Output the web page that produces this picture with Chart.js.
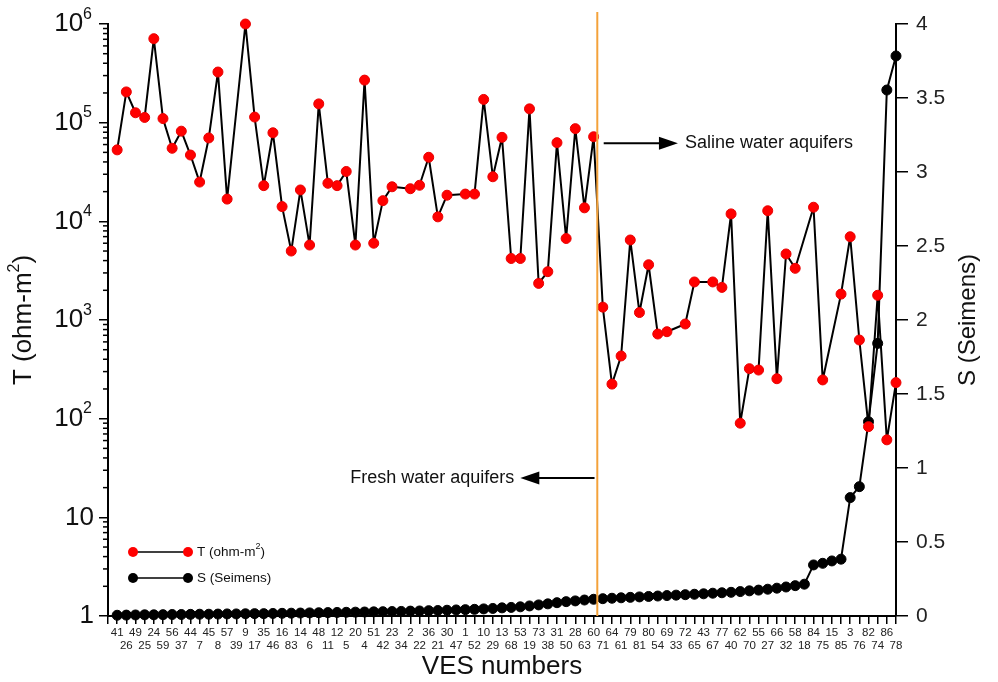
<!DOCTYPE html>
<html>
<head>
<meta charset="utf-8">
<script src="https://cdn.jsdelivr.net/npm/chart.js@4.4.1/dist/chart.umd.min.js"></script>
<style>
  html, body { margin: 0; padding: 0; background: #fff; }
</style>
</head>
<body>
<canvas id="chart" width="998" height="682"></canvas>
<script>
// VES numbers along the x axis, in plotted order
const vesNumbers = [41, 26, 49, 25, 24, 59, 56, 37, 44, 7, 45, 8, 57, 39, 9, 17, 35, 46, 16, 83,
  14, 6, 48, 11, 12, 5, 20, 4, 51, 42, 23, 34, 2, 22, 36, 21, 30, 47, 1, 52,
  10, 29, 13, 68, 53, 19, 73, 38, 31, 50, 28, 63, 60, 71, 64, 61, 79, 81, 80, 54,
  69, 33, 72, 65, 43, 67, 77, 40, 62, 70, 55, 27, 66, 32, 58, 18, 84, 75, 15, 85,
  3, 76, 82, 74, 86, 78];

// transverse resistance T (ohm-m2); null where no T marker is drawn
const tValues = [53000, 205000, 126000, 113000, 710000, 110000, 55000, 82000, 47000, 25000,
  70000, 326000, 16800, null, 1000000, 114000, 23000, 79000, 14100, 5000,
  20800, 5750, 155000, 24300, 23000, 32000, 5750, 270000, 6000, 16200,
  22400, null, 21400, 23200, 44600, 11100, 18400, null, 18900, 18900,
  172000, 28300, 71000, 4200, 4200, 138000, 2350, 3090, 62700, 6700,
  87000, 13700, 72000, 1350, 224, 432, 6470, 1190, 3630, 721,
  761, null, 911, 2430, null, 2430, 2140, 11900, 90, 321,
  311, 12800, 254, 4670, 3340, null, 13900, 247, null, 1830,
  6980, 627, 83, 1780, 61, 232];

// longitudinal conductance S (Seimens)
const sValues = [0.005, 0.006, 0.007, 0.008, 0.008, 0.009, 0.010, 0.010, 0.011, 0.012,
  0.012, 0.013, 0.014, 0.014, 0.015, 0.016, 0.016, 0.017, 0.018, 0.019,
  0.020, 0.021, 0.022, 0.023, 0.024, 0.025, 0.026, 0.027, 0.028, 0.029,
  0.030, 0.031, 0.033, 0.034, 0.036, 0.037, 0.039, 0.041, 0.043, 0.045,
  0.048, 0.051, 0.055, 0.058, 0.062, 0.068, 0.075, 0.082, 0.090, 0.097,
  0.102, 0.108, 0.113, 0.117, 0.120, 0.123, 0.126, 0.129, 0.132, 0.135,
  0.138, 0.141, 0.144, 0.147, 0.150, 0.154, 0.157, 0.160, 0.165, 0.170,
  0.175, 0.181, 0.188, 0.196, 0.205, 0.215, 0.345, 0.356, 0.372, 0.384,
  0.80, 0.874, 1.313, 1.842, 3.554, 3.784];

const tDecades = [1, 10, 100, 1000, 10000, 100000, 1000000];
const sTicks = [0, 0.5, 1, 1.5, 2, 2.5, 3, 3.5, 4];

// boundary between fresh and saline aquifers (x units) and arrow notes
const divideAt = 53.4;
const salineNote = { from: 54.1, to: 62.2, at: 62000, text: 'Saline water aquifers' };
const freshNote = { from: 53.1, to: 45.0, at: 25, text: 'Fresh water aquifers' };

const FONT = '"Liberation Sans", Arial, sans-serif';

function arrow(ctx, x0, x1, y) {
  const dir = x1 > x0 ? 1 : -1;
  ctx.beginPath();
  ctx.moveTo(x0, y);
  ctx.lineTo(x1 - dir * 12, y);
  ctx.stroke();
  ctx.beginPath();
  ctx.moveTo(x1, y);
  ctx.lineTo(x1 - dir * 19, y - 6.5);
  ctx.lineTo(x1 - dir * 19, y + 6.5);
  ctx.closePath();
  ctx.fill();
}

// text with a raised exponent
function supText(ctx, base, sup, tail, x, y, size, supSize, align) {
  ctx.font = size + 'px ' + FONT;
  const wb = ctx.measureText(base).width;
  const wt = ctx.measureText(tail).width;
  ctx.font = supSize + 'px ' + FONT;
  const ws = ctx.measureText(sup).width;
  let left = align === 'right' ? x - wb - ws - wt : (align === 'center' ? x - (wb + ws + wt) / 2 : x);
  ctx.textAlign = 'left';
  ctx.textBaseline = 'middle';
  ctx.font = size + 'px ' + FONT;
  ctx.fillText(base, left, y);
  ctx.font = supSize + 'px ' + FONT;
  ctx.fillText(sup, left + wb, y - size * 0.38);
  ctx.font = size + 'px ' + FONT;
  ctx.fillText(tail, left + wb + ws, y);
}

const decor = {
  id: 'decor',
  afterDraw(chart) {
    const { ctx, chartArea: a, scales } = chart;
    const x = scales.x, y = scales.y;
    ctx.save();
    ctx.strokeStyle = '#000';
    ctx.fillStyle = '#111';

    // minor ticks on the log axis
    ctx.lineWidth = 1.5;
    for (let d = 0; d < 6; d++) {
      for (let m = 2; m < 10; m++) {
        const py = y.getPixelForValue(m * Math.pow(10, d));
        ctx.beginPath();
        ctx.moveTo(a.left - 5, py);
        ctx.lineTo(a.left, py);
        ctx.stroke();
      }
    }

    // log axis labels: 1, 10, 10^2 ...
    tDecades.forEach(v => {
      const e = Math.round(Math.log10(v));
      const py = y.getPixelForValue(v);
      if (e < 2) {
        ctx.font = '26px ' + FONT;
        ctx.textAlign = 'right';
        ctx.textBaseline = 'middle';
        ctx.fillText(String(v), a.left - 14, py);
      } else {
        supText(ctx, '10', String(e), '', a.left - 16, py, 26, 16, 'right');
      }
    });

    // axis titles
    ctx.save();
    ctx.translate(24, (a.top + a.bottom) / 2);
    ctx.rotate(-Math.PI / 2);
    supText(ctx, 'T (ohm-m', '2', ')', 0, 0, 26, 16, 'center');
    ctx.restore();

    ctx.save();
    ctx.translate(968, (a.top + a.bottom) / 2);
    ctx.rotate(-Math.PI / 2);
    ctx.font = '24px ' + FONT;
    ctx.textAlign = 'center';
    ctx.textBaseline = 'middle';
    ctx.fillText('S (Seimens)', 0, 0);
    ctx.restore();

    ctx.font = '26px ' + FONT;
    ctx.textAlign = 'center';
    ctx.textBaseline = 'middle';
    ctx.fillText('VES numbers', (a.left + a.right) / 2, 667);

    // fresh / saline divider
    const dx = x.getPixelForValue(divideAt);
    ctx.strokeStyle = '#f4a23a';
    ctx.lineWidth = 2;
    ctx.beginPath();
    ctx.moveTo(dx, 12);
    ctx.lineTo(dx, a.bottom);
    ctx.stroke();

    // arrow notes
    ctx.strokeStyle = '#000';
    ctx.fillStyle = '#000';
    ctx.lineWidth = 2;
    const sy = y.getPixelForValue(salineNote.at);
    arrow(ctx, x.getPixelForValue(salineNote.from), x.getPixelForValue(salineNote.to), sy);
    ctx.fillStyle = '#111';
    ctx.font = '18px ' + FONT;
    ctx.textAlign = 'left';
    ctx.textBaseline = 'middle';
    ctx.fillText(salineNote.text, x.getPixelForValue(salineNote.to) + 7, sy);

    const fy = y.getPixelForValue(freshNote.at);
    ctx.fillStyle = '#000';
    arrow(ctx, x.getPixelForValue(freshNote.from), x.getPixelForValue(freshNote.to), fy);
    ctx.fillStyle = '#111';
    ctx.textAlign = 'right';
    ctx.fillText(freshNote.text, x.getPixelForValue(freshNote.to) - 6, fy);

    // legend
    const rows = [
      { color: '#ff0000', base: 'T (ohm-m', sup: '2', tail: ')', y: a.bottom - 64 },
      { color: '#000000', base: 'S (Seimens)', sup: '', tail: '', y: a.bottom - 38 }
    ];
    rows.forEach(r => {
      const x0 = a.left + 25, x1 = a.left + 80;
      ctx.strokeStyle = '#000';
      ctx.lineWidth = 1.5;
      ctx.beginPath();
      ctx.moveTo(x0, r.y);
      ctx.lineTo(x1, r.y);
      ctx.stroke();
      ctx.fillStyle = r.color;
      [x0, x1].forEach(px => {
        ctx.beginPath();
        ctx.arc(px, r.y, 5, 0, Math.PI * 2);
        ctx.fill();
      });
      ctx.fillStyle = '#111';
      supText(ctx, r.base, r.sup, r.tail, x1 + 9, r.y, 13.5, 9, 'left');
    });
    ctx.restore();
  }
};

new Chart(document.getElementById('chart'), {
  type: 'line',
  data: {
    datasets: [
      {
        label: 'T (ohm-m²)',
        data: vesNumbers.map((n, i) => ({ x: i + 1, y: tValues[i] })),
        yAxisID: 'y',
        borderColor: '#000',
        borderWidth: 2,
        borderJoinStyle: 'round',
        pointBackgroundColor: '#ff0000',
        pointBorderColor: '#e80000',
        pointBorderWidth: 1,
        pointRadius: 5,
        spanGaps: true,
        tension: 0,
        clip: false
      },
      {
        label: 'S (Seimens)',
        data: vesNumbers.map((n, i) => ({ x: i + 1, y: sValues[i] })),
        yAxisID: 'y1',
        borderColor: '#000',
        borderWidth: 2,
        borderJoinStyle: 'round',
        pointBackgroundColor: '#000',
        pointBorderColor: '#000',
        pointBorderWidth: 1,
        pointRadius: 5,
        tension: 0,
        clip: false
      }
    ]
  },
  options: {
    responsive: false,
    animation: false,
    layout: { padding: { top: 24, left: 0, right: 0, bottom: 0 } },
    plugins: { legend: { display: false }, tooltip: { enabled: false } },
    scales: {
      x: {
        type: 'linear',
        min: 0,
        max: vesNumbers.length,
        afterFit: s => { s.height = 66; },
        border: { color: '#000', width: 2 },
        grid: { drawOnChartArea: false, tickLength: 8, color: '#000', lineWidth: 1.5 },
        ticks: {
          stepSize: 1,
          autoSkip: false,
          maxRotation: 0,
          minRotation: 0,
          padding: 2,
          color: '#222',
          font: { family: FONT, size: 11.5, lineHeight: 1.15 },
          callback: v => {
            if (v < 1 || v > vesNumbers.length) return '';
            const lab = String(vesNumbers[v - 1]);
            return v % 2 === 1 ? lab : ['', lab];
          }
        }
      },
      y: {
        type: 'logarithmic',
        position: 'left',
        min: 1,
        max: 1000000,
        afterFit: s => { s.width = 108; },
        afterBuildTicks: s => { s.ticks = tDecades.map(v => ({ value: v })); },
        border: { color: '#000', width: 2 },
        grid: { drawOnChartArea: false, tickLength: 9, color: '#000', lineWidth: 1.5 },
        ticks: { display: false }
      },
      y1: {
        type: 'linear',
        position: 'right',
        min: 0,
        max: 4,
        afterFit: s => { s.width = 102; },
        afterBuildTicks: s => { s.ticks = sTicks.map(v => ({ value: v })); },
        border: { color: '#000', width: 2 },
        grid: { drawOnChartArea: false, tickLength: 12, color: '#000', lineWidth: 1.5 },
        ticks: {
          padding: 8,
          color: '#222',
          font: { family: FONT, size: 21 },
          callback: v => String(v)
        }
      }
    }
  },
  plugins: [decor]
});
</script>
</body>
</html>
